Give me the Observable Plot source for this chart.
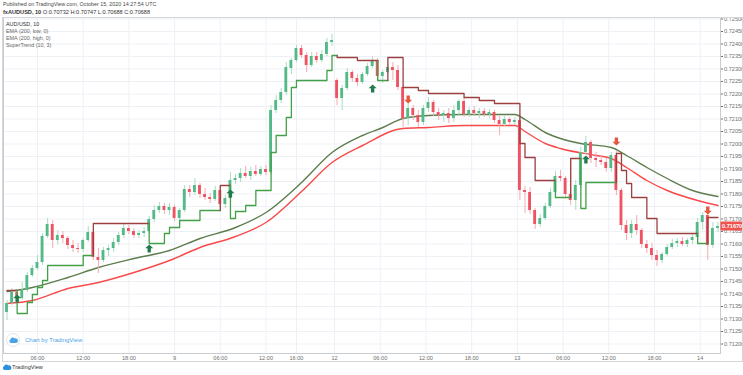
<!DOCTYPE html>
<html><head><meta charset="utf-8">
<script src="https://cdn.jsdelivr.net/npm/d3@7"></script>
<script src="https://cdn.jsdelivr.net/npm/@observablehq/plot@0.6"></script>
<style>
body{margin:0;background:#fff;font-family:"Liberation Sans",Arial,sans-serif;}
#wrap{position:relative;width:743px;height:375px;overflow:hidden;background:#fff;}
#chart{position:absolute;left:0;top:0;}
.t{position:absolute;white-space:nowrap;line-height:1;}
#frame{position:absolute;left:2px;top:17px;width:741px;height:345px;box-sizing:border-box;border:1px solid #d4d7da;pointer-events:none;}
</style></head><body>
<div id="wrap">
  <div id="chart"></div>
  <div id="frame"></div>
  <div class="t" style="left:3px;top:1.5px;font-size:5.4px;color:#4a4a4a">Published on TradingView.com, October 15, 2020 14:27:54 UTC</div>
  <div class="t" style="left:3px;top:10px;font-size:5.6px;color:#333"><b>fxAUDUSD, 10</b> O:0.70732 H:0.70747 L:0.70688 C:0.70688</div>
  <div class="t" style="left:6px;top:21.5px;font-size:5.4px;color:#333">AUD/USD, 10</div>
  <div class="t" style="left:6px;top:28.5px;font-size:5.4px;color:#666">EMA (200, low, 0)</div>
  <div class="t" style="left:6px;top:35.5px;font-size:5.4px;color:#666">EMA (200, high, 0)</div>
  <div class="t" style="left:6px;top:42.5px;font-size:5.4px;color:#666">SuperTrend (10, 3)</div>
  <div style="position:absolute;left:6px;top:333px;width:14px;height:14px;border-radius:50%;border:1px solid #e3e6ea;background:#fff;box-sizing:border-box;"></div>
  <svg style="position:absolute;left:9px;top:337px" width="9" height="6" viewBox="0 0 9 6"><path d="M2 6 A2 2 0 0 1 1.6 2.2 A2.4 2.4 0 0 1 5.8 1.4 A1.9 1.9 0 0 1 7.2 6 Z" fill="#4aa3e8"/></svg>
  <div class="t" style="left:25px;top:337px;font-size:6px;color:#4aa3e8">Chart by TradingView</div>
  <svg style="position:absolute;left:2px;top:364px" width="10" height="6" viewBox="0 0 9 6"><path d="M2 6 A2 2 0 0 1 1.6 2.2 A2.4 2.4 0 0 1 5.8 1.4 A1.9 1.9 0 0 1 7.2 6 Z" fill="#2f8fe0"/></svg>
  <div class="t" style="left:12px;top:364.5px;font-size:5.6px;color:#333">TradingView</div>
</div>
<script>
// ---- candle data (40-minute aggregates) ----
const open = [0.71326,0.71362,0.71406,0.71382,0.71414,0.71474,0.71502,0.71526,0.71630,0.71678,
0.71614,0.71634,0.71622,0.71594,0.71582,0.71578,0.71614,0.71646,0.71546,0.71534,
0.71574,0.71582,0.71606,0.71634,0.71662,0.71650,0.71634,0.71642,0.71650,0.71698,
0.71734,0.71750,0.71734,0.71746,0.71702,0.71734,0.71818,0.71806,0.71834,0.71798,
0.71786,0.71778,0.71814,0.71758,0.71782,0.71854,0.71862,0.71882,0.71870,0.71890,
0.71878,0.71898,0.71886,0.72134,0.72174,0.72206,0.72302,0.72334,0.72382,0.72354,
0.72314,0.72350,0.72334,0.72358,0.72406,0.72254,0.72182,0.72222,0.72286,0.72262,
0.72246,0.72278,0.72310,0.72334,0.72270,0.72286,0.72306,0.72294,0.72226,0.72102,
0.72142,0.72114,0.72086,0.72142,0.72166,0.72126,0.72114,0.72122,0.72102,0.72134,
0.72170,0.72118,0.72134,0.72122,0.72130,0.72118,0.72126,0.72094,0.72078,0.72098,
0.72086,0.72094,0.71814,0.71806,0.71734,0.71678,0.71702,0.71750,0.71806,0.71870,
0.71862,0.71798,0.71774,0.71834,0.71966,0.72006,0.71942,0.71934,0.71926,0.71902,
0.71954,0.71814,0.71674,0.71642,0.71678,0.71654,0.71598,0.71582,0.71554,0.71534,
0.71558,0.71586,0.71602,0.71610,0.71598,0.71614,0.71626,0.71686,0.71714,0.71594,
0.71662];
const high = [0.71374,0.71422,0.71418,0.71446,0.71486,0.71514,0.71554,0.71642,0.71702,0.71694,
0.71654,0.71650,0.71630,0.71614,0.71602,0.71622,0.71670,0.71654,0.71582,0.71586,
0.71594,0.71622,0.71646,0.71678,0.71674,0.71662,0.71654,0.71666,0.71710,0.71754,
0.71766,0.71762,0.71762,0.71754,0.71742,0.71834,0.71834,0.71862,0.71842,0.71822,
0.71802,0.71830,0.71830,0.71794,0.71886,0.71878,0.71902,0.71910,0.71906,0.71914,
0.71910,0.71914,0.72154,0.72194,0.72222,0.72326,0.72342,0.72394,0.72394,0.72366,
0.72366,0.72366,0.72374,0.72422,0.72438,0.72262,0.72234,0.72302,0.72294,0.72278,
0.72286,0.72322,0.72350,0.72342,0.72294,0.72318,0.72326,0.72314,0.72234,0.72162,
0.72154,0.72134,0.72154,0.72186,0.72174,0.72142,0.72134,0.72142,0.72154,0.72178,
0.72186,0.72146,0.72150,0.72142,0.72142,0.72138,0.72134,0.72110,0.72110,0.72106,
0.72106,0.72102,0.71830,0.71826,0.71742,0.71718,0.71762,0.71822,0.71890,0.71894,
0.71870,0.71934,0.71854,0.71986,0.72030,0.72014,0.71966,0.71954,0.71942,0.71966,
0.71974,0.71822,0.71694,0.71694,0.71714,0.71662,0.71614,0.71602,0.71574,0.71566,
0.71598,0.71618,0.71622,0.71626,0.71622,0.71638,0.71702,0.71726,0.71734,0.71686,
0.71686];
const low = [0.71294,0.71354,0.71366,0.71374,0.71406,0.71466,0.71494,0.71514,0.71622,0.71582,
0.71598,0.71602,0.71578,0.71566,0.71562,0.71566,0.71606,0.71534,0.71482,0.71526,
0.71550,0.71566,0.71594,0.71622,0.71638,0.71622,0.71622,0.71626,0.71638,0.71686,
0.71722,0.71718,0.71714,0.71690,0.71694,0.71726,0.71786,0.71794,0.71782,0.71774,
0.71762,0.71770,0.71742,0.71742,0.71774,0.71838,0.71846,0.71862,0.71854,0.71870,
0.71870,0.71874,0.71878,0.72122,0.72162,0.72194,0.72278,0.72326,0.72342,0.72286,
0.72306,0.72322,0.72326,0.72350,0.72390,0.72154,0.72134,0.72214,0.72246,0.72230,
0.72238,0.72270,0.72302,0.72254,0.72242,0.72278,0.72254,0.72214,0.72066,0.72074,
0.72094,0.72066,0.72074,0.72126,0.72110,0.72094,0.72086,0.72082,0.72086,0.72110,
0.72106,0.72106,0.72110,0.72102,0.72106,0.72102,0.72082,0.72034,0.72066,0.72074,
0.72074,0.71774,0.71722,0.71718,0.71658,0.71666,0.71694,0.71742,0.71798,0.71850,
0.71782,0.71754,0.71734,0.71822,0.71954,0.71922,0.71906,0.71914,0.71886,0.71886,
0.71794,0.71654,0.71614,0.71622,0.71634,0.71582,0.71562,0.71534,0.71510,0.71522,
0.71550,0.71578,0.71586,0.71590,0.71586,0.71598,0.71614,0.71654,0.71534,0.71582,
0.71646];
const close = [0.71362,0.71406,0.71382,0.71414,0.71474,0.71502,0.71526,0.71630,0.71678,0.71614,
0.71634,0.71622,0.71594,0.71582,0.71578,0.71614,0.71646,0.71546,0.71534,0.71574,
0.71582,0.71606,0.71634,0.71662,0.71650,0.71634,0.71642,0.71650,0.71698,0.71734,
0.71750,0.71734,0.71746,0.71702,0.71734,0.71818,0.71806,0.71834,0.71798,0.71786,
0.71778,0.71814,0.71758,0.71782,0.71854,0.71862,0.71882,0.71870,0.71890,0.71878,
0.71898,0.71886,0.72134,0.72174,0.72206,0.72306,0.72334,0.72382,0.72354,0.72314,
0.72350,0.72334,0.72358,0.72406,0.72414,0.72182,0.72222,0.72286,0.72262,0.72246,
0.72278,0.72310,0.72334,0.72270,0.72286,0.72306,0.72294,0.72226,0.72102,0.72142,
0.72114,0.72086,0.72142,0.72166,0.72126,0.72114,0.72122,0.72102,0.72134,0.72170,
0.72118,0.72134,0.72122,0.72130,0.72118,0.72126,0.72094,0.72078,0.72098,0.72086,
0.72094,0.71814,0.71806,0.71734,0.71678,0.71702,0.71750,0.71806,0.71870,0.71862,
0.71798,0.71774,0.71834,0.71966,0.72006,0.71942,0.71934,0.71926,0.71902,0.71954,
0.71814,0.71674,0.71642,0.71678,0.71654,0.71598,0.71582,0.71554,0.71534,0.71558,
0.71586,0.71602,0.71610,0.71598,0.71614,0.71626,0.71686,0.71714,0.71594,0.71662,
0.71670];

// ---- EMA (200) of highs and lows, sampled at candle indices ----
const emaHighIdx = [0,5,12,18,25,32,38,45,51,58,64,70,74,78,83,90,100,102,106,109,113,119,122,126,130,135,140];
const emaHigh = [0.71410,0.71426,0.71466,0.71506,0.71542,0.71574,0.71622,0.71666,0.71726,0.71846,0.71966,0.72034,0.72066,0.72102,0.72114,0.72118,0.72118,0.72098,0.72046,0.72022,0.72002,0.71986,0.71954,0.71906,0.71862,0.71814,0.71790];
const emaLowIdx = [0,5,12,18,25,32,38,45,51,58,64,70,78,83,90,100,102,106,109,116,119,122,126,130,136,140];
const emaLow = [0.71362,0.71374,0.71422,0.71446,0.71486,0.71534,0.71586,0.71630,0.71686,0.71810,0.71926,0.71994,0.72062,0.72066,0.72074,0.72074,0.72050,0.72002,0.71982,0.71954,0.71942,0.71906,0.71854,0.71814,0.71774,0.71754];

// ---- SuperTrend (10, 3): level changes (start candle, level, trend) ----
const stStart = [0, 2,4,5,6,7,8,15, 17, 28,31,32,34,38, 42, 44,45,47,49,52,53,55,56,57,63,64, 65,69, 73, 75,78,81,83,90,93,96,101,102,104, 108, 111, 113,114, 120,121,122,123,126,128, 136, 138];
const stLevel = [0.71414, 0.71322,0.71366,0.71398,0.71426,0.71454,0.71514,0.71554, 0.71682, 0.71602,0.71642,0.71666,0.71694,0.71734, 0.71834, 0.71702,0.71730,0.71754,0.71814,0.71966,0.72034,0.72106,0.72226,0.72254,0.72294,0.72354, 0.72346,0.72334, 0.72254, 0.72346,0.72226,0.72214,0.72202,0.72186,0.72174,0.72162,0.72002,0.71946,0.71854, 0.71786, 0.71942, 0.71742,0.71846, 0.71962,0.71894,0.71842,0.71786,0.71702,0.71642, 0.71602, 0.71706];
const stTrend = [-1, 1,1,1,1,1,1,1, -1, 1,1,1,1,1, -1, 1,1,1,1,1,1,1,1,1,1,1, -1,-1, 1, -1,-1,-1,-1,-1,-1,-1,-1,-1,-1, 1, -1, 1,1, -1,-1,-1,-1,-1,-1, 1, -1];

// ---- signals ----
const buyIdx = [2,28,44,72,114];
const buyPrice = [0.71382,0.71582,0.71802,0.72222,0.71938];
const sellIdx = [79,120,138];
const sellPrice = [0.72178,0.72010,0.71734];

// ---- axes ----
const priceTicks = [0.7120,0.71250,0.7130,0.71350,0.7140,0.71450,0.7150,0.71550,0.7160,0.71650,0.7170,0.71750,0.7180,0.71850,0.7190,0.71950,0.7200,0.72050,0.7210,0.72150,0.7220,0.72250,0.7230,0.72350,0.7240,0.72450,0.7250];
const timeTickPos = [6,15,24,33,42,51,57,64.5,73.5,82.5,91.5,100.5,109.5,118.5,127.5,136.5];
const timeTickLabels = ["06:00","12:00","18:00","9","06:00","12:00","16:00","12","06:00","12:00","18:00","13","06:00","12:00","18:00","14"];
const lastPriceLabel = "0.71670";

// ---- build tables ----
const n = close.length;
const candles = close.map((c, i) => ({i, open: open[i], high: high[i], low: low[i], close: c, up: c >= open[i]}));
const emaH = emaHighIdx.map((k, j) => ({x: k, y: emaHigh[j]}));
const emaL = emaLowIdx.map((k, j) => ({x: k, y: emaLow[j]}));

const stVal = [], stDir = [];
{
  let s = 0;
  for (let k = 0; k < n; k++) {
    while (s + 1 < stStart.length && stStart[s + 1] <= k) s++;
    stVal.push(stLevel[s]); stDir.push(stTrend[s]);
  }
}
const stPts = [];
{
  let g = 0;
  for (let k = 0; k < n; k++) {
    if (k > 0 && stDir[k] !== stDir[k - 1]) { g++; stPts.push({x: k, y: stVal[k - 1], g, dir: stDir[k]}); }
    stPts.push({x: k, y: stVal[k], g, dir: stDir[k]});
    if (k < n - 1 && stDir[k + 1] !== stDir[k]) stPts.push({x: k + 1, y: stVal[k], g, dir: stDir[k]});
  }
}
const buys = buyIdx.map((k, j) => ({x: k, y: buyPrice[j]}));
const sells = sellIdx.map((k, j) => ({x: k, y: sellPrice[j]}));

function arrow(dir) {
  return {draw(ctx, size) {
    const r = Math.sqrt(size / Math.PI);
    const d = dir;
    ctx.moveTo(0, -r * d);
    ctx.lineTo(r, -0.05 * r * d);
    ctx.lineTo(0.42 * r, -0.05 * r * d);
    ctx.lineTo(0.42 * r, r * d);
    ctx.lineTo(-0.42 * r, r * d);
    ctx.lineTo(-0.42 * r, -0.05 * r * d);
    ctx.lineTo(-r, -0.05 * r * d);
    ctx.closePath();
  }};
}

const tickMap = new Map(timeTickPos.map((p, j) => [p, timeTickLabels[j]]));
const upBody = "#53b987", downBody = "#ef5261", upWick = "#a8dcc2", downWick = "#f6aab1";
const grid = "#edf1f6";

const plot = Plot.plot({
  width: 743, height: 375,
  marginTop: 17, marginBottom: 22, marginLeft: 3, marginRight: 23,
  style: {fontSize: "5.6px", fontFamily: "Liberation Sans, Arial, sans-serif", color: "#6f6f6f", background: "transparent", overflow: "visible"},
  x: {domain: [-0.69, n - 0.5], ticks: timeTickPos, tickFormat: d => tickMap.get(d), tickSize: 0, tickPadding: 2.5, label: null},
  y: {domain: [0.71162, 0.72506], axis: "right", ticks: priceTicks, tickFormat: d3.format(".5f"), tickSize: 2, tickPadding: 1.5, label: null},
  marks: [
    Plot.ruleY(priceTicks, {stroke: grid, strokeWidth: 1}),
    Plot.ruleX(timeTickPos, {stroke: grid, strokeWidth: 1}),
    Plot.frame({stroke: "#c9cdd1"}),
    Plot.line(emaH, {x: "x", y: "y", stroke: "#5d7d4c", strokeWidth: 1.4, curve: "monotone-x"}),
    Plot.line(emaL, {x: "x", y: "y", stroke: "#f84a4a", strokeWidth: 1.4, curve: "monotone-x"}),
    Plot.ruleX(candles, {x: "i", y1: "low", y2: "high", stroke: d => d.up ? upWick : downWick, strokeWidth: 1}),
    Plot.rect(candles, {x1: d => d.i - 0.28, x2: d => d.i + 0.28, y1: "open", y2: "close", fill: d => d.up ? upBody : downBody}),
    Plot.line(stPts, {x: "x", y: "y", z: "g", stroke: d => d.dir > 0 ? "#43a047" : "#9c4040", strokeWidth: 1.3, curve: "step-after"}),
    Plot.dot(buys, {x: "x", y: "y", r: 4, symbol: arrow(1), fill: "#237a4b", stroke: "none"}),
    Plot.dot(sells, {x: "x", y: "y", r: 4, symbol: arrow(-1), fill: "#e4573d", stroke: "none"})
  ]
});

const ys = plot.scale("y");
const yy = ys.apply(close[n - 1]);
const sel = d3.select(plot);
sel.append("rect").attr("x", 720.5).attr("y", yy - 4.5).attr("width", 21.5).attr("height", 9).attr("fill", "#ef5350");
sel.append("text").attr("x", 722).attr("y", yy + 2).attr("fill", "#fff").attr("text-anchor", "start")
  .attr("font-size", "5.6px").attr("font-weight", "bold").text(lastPriceLabel);

document.getElementById("chart").appendChild(plot);
</script>
</body></html>
